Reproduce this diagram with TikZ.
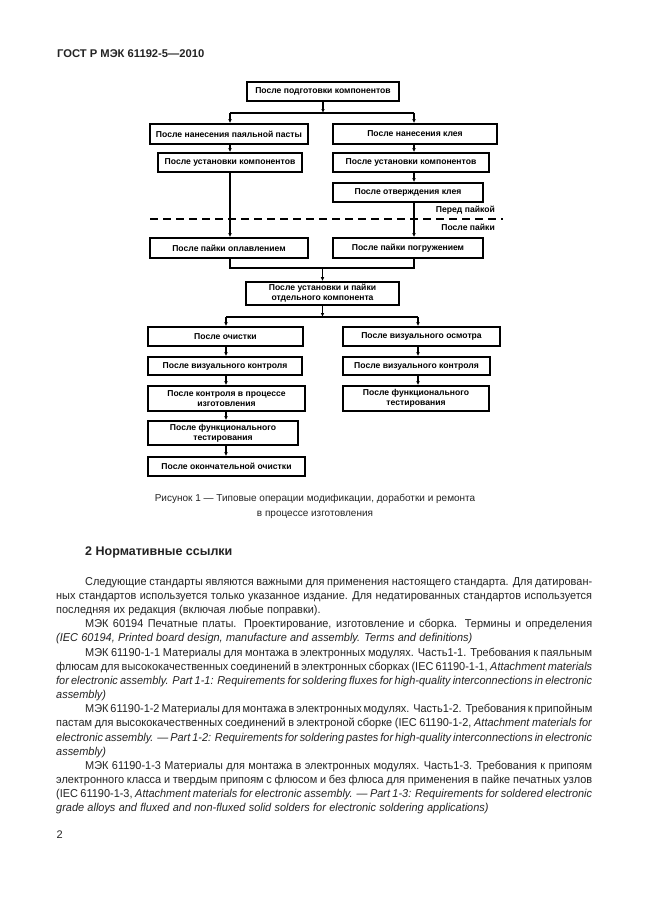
\documentclass[tikz,border=0pt]{standalone}
\usepackage{fontspec}
\setmainfont{Liberation Sans}
\newfontfamily\bodyFace[FakeStretch=0.96]{Liberation Sans}
\usepackage{tikz}
\usetikzlibrary{positioning, arrows.meta}
\tikzstyle{page} = [x = 1pt, y = -1pt]
\definecolor{inkColor}{RGB}{35,35,35}
\newcommand{\stageFont}{\fontsize{8.6}{9.8}\selectfont\bfseries}
\newcommand{\bodyFont}{\bodyFace\fontsize{11.4}{14}\selectfont\spaceskip=0.29em plus 0.8em minus 0.12em\relax}
\tikzstyle{stageBox} = [draw=black, line width=1.6pt, inner sep=0pt, align=center, font=\stageFont]
\tikzstyle{flowLine} = [line width=1.3pt]
\tikzstyle{flowArrow} = [flowLine, -{Latex[length=4pt, width=3.6pt]}]
\tikzstyle{boundaryLine} = [line width=1.3pt, dash pattern=on 8pt off 5pt]
\tikzstyle{sideLabel} = [inner sep=0pt, anchor=mid east, font=\stageFont]
\tikzstyle{bodyText} = [inner sep=0pt, anchor=mid west, text=inkColor, font=\bodyFont]
\newcommand{\textLeft}{56}
\newcommand{\textIndent}{85}
\newcommand{\stage}[6]{\node [stageBox, minimum width=#4pt, minimum height=#5pt] (#1) at (#2, #3) {#6};}
\newcommand{\fullLine}[3]{\node [bodyText] (#1) at (\textLeft, #2) {\hbox to 536pt{#3}};}
\newcommand{\firstLine}[3]{\node [bodyText] (#1) at (\textIndent, #2) {\hbox to 507pt{#3}};}
\newcommand{\lastLine}[3]{\node [bodyText] (#1) at (\textLeft, #2) {#3};}
\begin{document}
\begin{tikzpicture}[page]
\fill [white] (0,0) rectangle (646,913);
\useasboundingbox (0,0) rectangle (646,913);
\node [inner sep=0pt, anchor=mid west, text=inkColor, font=\fontsize{11.2}{13}\selectfont\bfseries] (header) at (57, 55) {ГОСТ Р МЭК 61192-5—2010};

% before soldering
\stage{prep}{323}{91.5}{152}{19}{После подготовки компонентов}
\stage{pasteBox}{229}{134}{158}{20}{После нанесения паяльной пасты}
\stage{placeLeft}{230}{162.5}{144}{19}{После установки компонентов}
\stage{glueBox}{415}{134}{164}{20}{После нанесения клея}
\stage{placeRight}{411}{162.5}{156}{19}{После установки компонентов}
\stage{cureBox}{408}{192.5}{150}{19}{После отверждения клея}
\node [sideLabel] (beforeLabel) at (495, 210) {Перед пайкой};
\node [sideLabel] (afterLabel) at (495, 228) {После пайки};
\coordinate (dashStart) at (150, 219);
\coordinate (dashEnd) at (503, 219);
\draw [boundaryLine] (dashStart) -- (dashEnd);

% soldering
\stage{reflowBox}{229}{248}{158}{20}{После пайки оплавлением}
\stage{waveBox}{408}{248}{150}{20}{После пайки погружением}
\stage{singleBox}{322.5}{293.5}{153}{23}{После установки и пайки\\отдельного компонента}

% after soldering
\stage{cleanBox}{225.5}{336.5}{155}{19}{После очистки}
\stage{inspectLeft}{225}{366}{154}{18}{После визуального контроля}
\stage{processBox}{226.5}{398.5}{157}{25}{После контроля в процессе\\изготовления}
\stage{testLeft}{223}{433}{150}{24}{После функционального\\тестирования}
\stage{finalBox}{226.5}{466.5}{157}{19}{После окончательной очистки}
\stage{visualBox}{421.5}{336.5}{157}{19}{После визуального осмотра}
\stage{inspectRight}{416.5}{366}{147}{18}{После визуального контроля}
\stage{testRight}{416}{398.5}{146}{25}{После функционального\\тестирования}

\coordinate (leftUp) at (230, 113);
\coordinate (rightUp) at (414, 113);
\coordinate (leftJoin) at (230, 268);
\coordinate (rightJoin) at (414, 268);
\coordinate (leftLow) at (226, 317);
\coordinate (rightLow) at (418, 317);
\draw [flowArrow] (prep) -- (prep.south |- leftUp);
\draw [flowLine] (leftUp) -- (rightUp);
\draw [flowArrow] (leftUp) -- (pasteBox.north -| leftUp);
\draw [flowArrow] (rightUp) -- (glueBox.north -| rightUp);
\draw [flowArrow] (pasteBox.south -| leftUp) -- (placeLeft.north -| leftUp);
\draw [flowArrow] (placeLeft.south -| leftUp) -- (reflowBox.north -| leftUp);
\draw [flowArrow] (glueBox.south -| rightUp) -- (placeRight.north -| rightUp);
\draw [flowArrow] (placeRight.south -| rightUp) -- (cureBox.north -| rightUp);
\draw [flowArrow] (cureBox.south -| rightUp) -- (waveBox.north -| rightUp);
\draw [flowLine] (reflowBox.south -| leftJoin) -- (leftJoin) -- (rightJoin) -- (waveBox.south -| rightJoin);
\draw [flowArrow] (singleBox.north |- leftJoin) -- (singleBox);
\draw [flowArrow] (singleBox) -- (singleBox.south |- leftLow);
\draw [flowLine] (leftLow) -- (rightLow);
\draw [flowArrow] (leftLow) -- (cleanBox.north -| leftLow);
\draw [flowArrow] (cleanBox.south -| leftLow) -- (inspectLeft.north -| leftLow);
\draw [flowArrow] (inspectLeft.south -| leftLow) -- (processBox.north -| leftLow);
\draw [flowArrow] (processBox.south -| leftLow) -- (testLeft.north -| leftLow);
\draw [flowArrow] (testLeft.south -| leftLow) -- (finalBox.north -| leftLow);
\draw [flowArrow] (rightLow) -- (visualBox.north -| rightLow);
\draw [flowArrow] (visualBox.south -| rightLow) -- (inspectRight.north -| rightLow);
\draw [flowArrow] (inspectRight.south -| rightLow) -- (testRight.north -| rightLow);

\node [inner sep=0pt, align=center, text=inkColor, font=\fontsize{10}{15}\selectfont] (caption) at (315, 506.5) {Рисунок 1 — Типовые операции модификации, доработки и ремонта\\в процессе изготовления};
\node [inner sep=0pt, anchor=mid west, text=inkColor, font=\fontsize{12.5}{14}\selectfont\bfseries] (heading) at (85, 552.7) {2 Нормативные ссылки};

% references
\firstLine{lineA}{582.7}{Следующие стандарты являются важными для применения настоящего стандарта. Для датирован-}
\fullLine{lineB}{596.9}{ных стандартов используется только указанное издание. Для недатированных стандартов используется}
\lastLine{lineC}{611.0}{последняя их редакция (включая любые поправки).}
\firstLine{lineD}{625.2}{МЭК 60194 Печатные платы. Проектирование, изготовление и сборка. Термины и определения}
\lastLine{lineE}{639.3}{\textit{(IEC 60194, Printed board design, manufacture and assembly. Terms and definitions)}}
\firstLine{lineF}{653.5}{МЭК 61190-1-1 Материалы для монтажа в электронных модулях. Часть1-1. Требования к паяльным}
\fullLine{lineG}{667.6}{флюсам для высококачественных соединений в электронных сборках (IEC 61190-1-1, \textit{Attachment materials}}
\fullLine{lineH}{681.8}{\textit{for electronic assembly. Part 1-1: Requirements for soldering fluxes for high-quality interconnections in electronic}}
\lastLine{lineI}{695.9}{\textit{assembly)}}
\firstLine{lineJ}{710.1}{МЭК 61190-1-2 Материалы для монтажа в электронных модулях. Часть1-2. Требования к припойным}
\fullLine{lineK}{724.2}{пастам для высококачественных соединений в электроной сборке (IEC 61190-1-2, \textit{Attachment materials for}}
\fullLine{lineL}{738.4}{\textit{electronic assembly. — Part 1-2: Requirements for soldering pastes for high-quality interconnections in electronic}}
\lastLine{lineM}{752.5}{\textit{assembly)}}
\firstLine{lineN}{766.7}{МЭК 61190-1-3 Материалы для монтажа в электронных модулях. Часть1-3. Требования к припоям}
\fullLine{lineO}{780.8}{электронного класса и твердым припоям с флюсом и без флюса для применения в пайке печатных узлов}
\fullLine{lineP}{795.0}{(IEC 61190-1-3, \textit{Attachment materials for electronic assembly. — Part 1-3: Requirements for soldered electronic}}
\lastLine{lineQ}{809.1}{\textit{grade alloys and fluxed and non-fluxed solid solders for electronic soldering applications)}}
\node [inner sep=0pt, anchor=mid west, text=inkColor, font=\fontsize{11}{13}\selectfont] (pageNumber) at (56.5, 836) {2};
\end{tikzpicture}
\end{document}
